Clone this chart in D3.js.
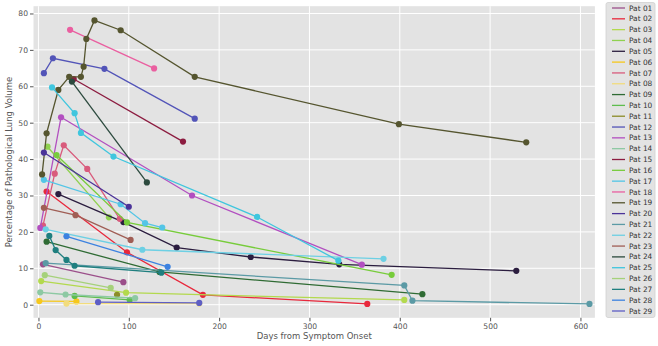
<!DOCTYPE html>
<html>
<head>
<meta charset="utf-8">
<script src="https://cdn.jsdelivr.net/npm/d3@7"></script>
<style>
  body { margin: 0; background: #fff; }
  svg { font-family: "DejaVu Sans", sans-serif; }
</style>
</head>
<body>
<div id="chart"></div>
<script>
// patient names, colors and the measurements (days / % volume) per patient
const patients = ["Pat 01","Pat 02","Pat 03","Pat 04","Pat 05","Pat 06","Pat 07","Pat 08","Pat 09","Pat 10",
  "Pat 11","Pat 12","Pat 13","Pat 14","Pat 15","Pat 16","Pat 17","Pat 18","Pat 19","Pat 20",
  "Pat 21","Pat 22","Pat 23","Pat 24","Pat 25","Pat 26","Pat 27","Pat 28","Pat 29"];

const colors = ["#9b4f8a","#e8283c","#b3d94e","#8fd14f","#2b1d3f","#f6c81c","#d95b7c","#f2dc7d","#2f6b34","#5ebd4e",
  "#8c8c28","#5254b8","#b24fc0","#8dc9a3","#8c1c40","#77cc3b","#53c5e6","#ea5fa0","#55552f","#4b3399",
  "#5b9aa5","#6dd0e4","#a05e55","#2c4a3e","#3fc6de","#a5d17a","#1f7f7f","#3c82e0","#5e5ec4"];

const days = [
  [5, 94],                    // 01
  [9, 98, 182, 364],          // 02
  [3, 97, 405],               // 03
  [10, 78],                   // 04
  [22, 94, 153, 235, 333, 529], // 05
  [1, 42],                    // 06
  [5, 18, 28, 54, 90],        // 07
  [31, 178],                  // 08
  [9, 134, 425],              // 09
  [40, 101],                  // 10
  [87],                       // 11
  [6, 16, 73, 173],           // 12
  [2, 25, 170, 358],          // 13
  [2, 30, 107],               // 14
  [39, 160],                  // 15
  [20, 98, 391],              // 16
  [6, 91, 118, 137],          // 17
  [35, 128],                  // 18
  [4, 9, 22, 34, 47, 50, 53, 62, 91, 173, 399, 540], // 19
  [6, 100],                   // 20
  [8, 405, 414, 610],         // 21
  [8, 115, 382],              // 22
  [6, 41, 102],               // 23
  [37, 120],                  // 24
  [15, 40, 47, 83, 242, 332], // 25
  [7, 80],                    // 26
  [12, 19, 31, 40, 136],      // 27
  [31, 143],                  // 28
  [66, 178]                   // 29
];

const values = [
  [11.1, 6.2],
  [31.1, 14.4, 2.7, 0.2],
  [6.5, 3.3, 1.3],
  [43.4, 24.0],
  [30.4, 22.7, 15.7, 13.1, 11.1, 9.3],
  [1.0, 0.9],
  [21.7, 36.0, 43.8, 37.3, 23.6],
  [0.3, 0.3],
  [17.3, 9.0, 2.9],
  [2.4, 1.3],
  [2.7],
  [63.6, 67.7, 64.8, 51.1],
  [21.1, 51.5, 30.0, 11.0],
  [3.4, 2.8, 1.8],
  [62.0, 44.8],
  [41.1, 22.6, 8.2],
  [34.3, 27.6, 22.4, 21.2],
  [75.5, 64.9],
  [35.8, 47.1, 59.0, 62.6, 62.6, 65.4, 73.0, 78.1, 75.4, 62.6, 49.6, 44.6],
  [41.8, 26.9],
  [11.4, 5.3, 1.1, 0.2],
  [20.7, 15.1, 12.6],
  [26.6, 24.6, 17.8],
  [61.3, 33.6],
  [59.7, 52.6, 47.2, 40.7, 24.1, 12.1],
  [8.1, 4.6],
  [18.9, 15.0, 12.3, 10.7, 8.8],
  [18.8, 10.4],
  [0.7, 0.5]
];

const xTicks = [0, 100, 200, 300, 400, 500, 600];
const yTicks = [0, 10, 20, 30, 40, 50, 60, 70, 80];

const width = 658;
const height = 346;
const plot = { left: 33.5, right: 594.9, top: 6.2, bottom: 317.8 };

const svg = d3.select("#chart").append("svg")
    .attr("width", width)
    .attr("height", height);

const xScale = d3.scaleLinear()
    .domain([-5.5, 616])
    .range([plot.left, plot.right]);

const yScale = d3.scaleLinear()
    .domain([-3.6, 82])
    .range([plot.bottom, plot.top]);

// plot background
svg.append("rect")
    .attr("x", plot.left)
    .attr("y", plot.top)
    .attr("width", plot.right - plot.left)
    .attr("height", plot.bottom - plot.top)
    .attr("fill", "#e3e3e3");

// grid lines
svg.append("g").selectAll("line")
    .data(xTicks)
    .enter().append("line")
    .attr("x1", d => xScale(d)).attr("x2", d => xScale(d))
    .attr("y1", plot.top).attr("y2", plot.bottom)
    .attr("stroke", "#fff").attr("stroke-width", 1);

svg.append("g").selectAll("line")
    .data(yTicks)
    .enter().append("line")
    .attr("x1", plot.left).attr("x2", plot.right)
    .attr("y1", d => yScale(d)).attr("y2", d => yScale(d))
    .attr("stroke", "#fff").attr("stroke-width", 1);

// axes
const xAxis = svg.append("g")
    .attr("transform", `translate(0, ${plot.bottom})`)
    .call(d3.axisBottom(xScale).tickValues(xTicks).tickSize(3.5).tickPadding(2));

const yAxis = svg.append("g")
    .attr("transform", `translate(${plot.left}, 0)`)
    .call(d3.axisLeft(yScale).tickValues(yTicks).tickSize(3.5).tickPadding(2));

[xAxis, yAxis].forEach(ax => {
    ax.select(".domain").remove();
    ax.selectAll("line").attr("stroke", "#555");
    ax.selectAll("text")
        .attr("fill", "#555")
        .style("font-size", "7.6px")
        .style("font-family", "DejaVu Sans, sans-serif");
});

// axis labels
svg.append("text")
    .attr("text-anchor", "middle")
    .attr("x", (plot.left + plot.right) / 2)
    .attr("y", 339)
    .attr("fill", "#555")
    .style("font-size", "8.5px")
    .text("Days from Symptom Onset");

svg.append("text")
    .attr("text-anchor", "middle")
    .attr("transform", "rotate(-90)")
    .attr("x", -(plot.top + plot.bottom) / 2)
    .attr("y", 12)
    .attr("fill", "#555")
    .style("font-size", "8.5px")
    .text("Percentage of Pathological Lung Volume");

// series
const line = d3.line()
    .x(d => xScale(d[0]))
    .y(d => yScale(d[1]));

patients.forEach((p, i) => {
    const pts = days[i].map((d, j) => [d, values[i][j]]);
    const g = svg.append("g").attr("class", "series");
    g.append("path")
        .datum(pts)
        .attr("d", line)
        .attr("fill", "none")
        .attr("stroke", colors[i])
        .attr("stroke-width", 1.3);
    g.selectAll("circle")
        .data(pts)
        .enter().append("circle")
        .attr("cx", d => xScale(d[0]))
        .attr("cy", d => yScale(d[1]))
        .attr("r", 3.1)
        .attr("fill", colors[i]);
});

// legend
const legend = svg.append("g")
    .attr("class", "legend");

legend.append("rect")
    .attr("x", 606)
    .attr("y", 2.5)
    .attr("width", 49)
    .attr("height", 315)
    .attr("fill", "#e3e3e3")
    .attr("stroke", "#d0d0d0")
    .attr("stroke-width", 0.8)
    .attr("rx", 2);

const rowY = d3.scaleLinear().domain([0, 28]).range([8, 311]);

patients.forEach((p, i) => {
    legend.append("line")
        .attr("x1", 612).attr("x2", 625)
        .attr("y1", rowY(i)).attr("y2", rowY(i))
        .attr("stroke", colors[i])
        .attr("stroke-width", 1.3);
    legend.append("text")
        .attr("x", 629)
        .attr("y", rowY(i))
        .attr("dy", "0.35em")
        .attr("fill", "#333")
        .style("font-size", "7.4px")
        .text(p);
});
</script>
</body>
</html>
